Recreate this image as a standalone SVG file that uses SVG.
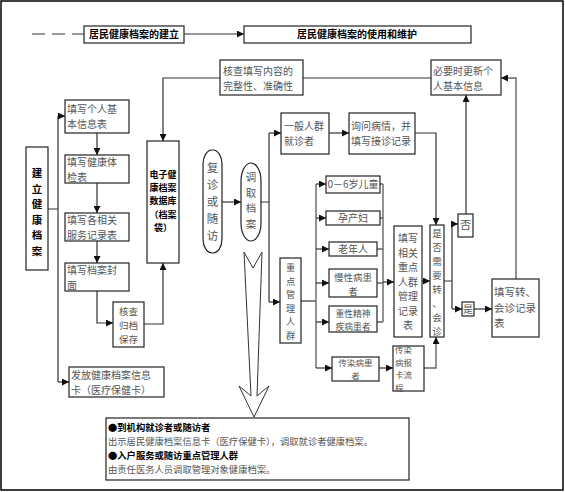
<svg xmlns="http://www.w3.org/2000/svg" width="565" height="492" viewBox="0 0 565 492">
<defs>
<marker id="ah" viewBox="0 0 8 8" refX="8" refY="4" markerWidth="7" markerHeight="7" markerUnits="userSpaceOnUse" orient="auto">
<path d="M0,0 L8,4 L0,8 z" fill="#111"/>
</marker>
<style>
.bx{fill:#fff;stroke:#222;stroke-width:1.2}
.t{font-family:"Noto Sans CJK SC","Noto Sans CJK JP",sans-serif;font-size:10px;fill:#555}
.c{text-anchor:middle}
.bd{font-weight:bold;fill:#000}
.ln{fill:none;stroke:#333;stroke-width:1.2}
.ar{marker-end:url(#ah)}
.g{stroke:#666;stroke-width:1.4}
</style>
</defs>
<rect x="1" y="1" width="562" height="489" fill="#fff" stroke="#000" stroke-width="1.5"/>

<g id="connectors">
<line class="ln" x1="32" y1="34" x2="84" y2="34" stroke-dasharray="13,7"/>
<path class="ln ar" d="M184,34 H244"/>
<path class="ln ar" d="M220,78 H163 V141"/>
<path class="ln" d="M303,78 H431"/>
<path class="ln ar g" d="M516,279 V78 H501"/>
<path class="ln ar" d="M466,214 V95"/>
<path class="ln" d="M48,209 H58 M58,116 V382"/>
<path class="ln ar" d="M58,116 H65"/>
<path class="ln ar" d="M58,382 H69"/>
<path class="ln ar" d="M97,133 V155"/>
<path class="ln ar" d="M97,183 V213"/>
<path class="ln ar" d="M97,241 V263"/>
<path class="ln ar" d="M97,291 V323 H113"/>
<path class="ln ar" d="M144,324 H163 V263"/>
<path class="ln ar" d="M222,202 H241"/>
<path class="ln" d="M261,202 H269 M269,133 V302"/>
<path class="ln ar" d="M269,133 H281"/>
<path class="ln ar" d="M269,302 H280"/>
<path class="ln ar" d="M329,133 H349"/>
<path class="ln ar" d="M415,133 H436 V225"/>
<path class="ln" d="M444,281 H452 M452,224 V309"/>
<path class="ln ar" d="M452,224 H458"/>
<path class="ln ar" d="M452,309 H462"/>
<path class="ln ar" d="M474,309 H492"/>
<path class="ln" d="M301,301 H316" stroke-width="2.2"/>
<path class="ln g" d="M316,184 V368"/>
<path class="ln ar" d="M316,184 H326"/>
<path class="ln ar" d="M316,218 H326"/>
<path class="ln ar" d="M316,249 H329"/>
<path class="ln ar" d="M316,283 H329"/>
<path class="ln ar" d="M316,322 H329"/>
<path class="ln ar" d="M316,368 H332"/>
<path class="ln g" d="M380,184 H383 M380,218 H383 M377,249 H383 M377,283 H383 M377,322 H383 M383,184 V322"/>
<path class="ln ar" d="M383,282 H394"/>
<path class="ln ar" d="M422,281 H430"/>
<path class="ln ar" d="M379,368 H393"/>
<path class="ln ar g" d="M424,368 H436 V337"/>
<polygon points="244,252 253,268 262,252 257,396 269,386 254,417 239,386 251,396" fill="#fff" stroke="#333" stroke-width="1"/>
</g>

<g id="n-build"><rect class="bx" x="84" y="26" width="100" height="17"/><text class="t c bd" x="134" y="38">居民健康档案的建立</text></g>
<g id="n-use"><rect class="bx" x="244" y="26" width="227" height="17"/><text class="t c bd" x="357" y="38">居民健康档案的使用和维护</text></g>

<g id="n-check"><rect class="bx" x="220" y="60" width="83" height="35"/><text class="t" x="223" y="75">核查填写内容的</text><text class="t" x="223" y="89.5">完整性、准确性</text></g>
<g id="n-update"><rect class="bx" x="431" y="60" width="70" height="35"/><text class="t" x="433" y="75">必要时更新个</text><text class="t" x="433" y="89.5">人基本信息</text></g>

<g id="n-jianli"><rect class="bx" x="26" y="147" width="22" height="123"/>
<text class="t c bd" style="font-size:10.5px"><tspan x="37" y="177">建</tspan><tspan x="37" y="192.5">立</tspan><tspan x="37" y="208">健</tspan><tspan x="37" y="223.5">康</tspan><tspan x="37" y="239">档</tspan><tspan x="37" y="254.5">案</tspan></text></g>

<g id="n-f1"><rect class="bx" x="65" y="100" width="64" height="33"/><text class="t" x="67" y="113">填写个人基</text><text class="t" x="67" y="127.5">本信息表</text></g>
<g id="n-f2"><rect class="bx" x="65" y="155" width="64" height="28"/><text class="t" x="67" y="166">填写健康体</text><text class="t" x="67" y="180.5">检表</text></g>
<g id="n-f3"><rect class="bx" x="65" y="213" width="64" height="28"/><text class="t" x="67" y="224">填写各相关</text><text class="t" x="67" y="238.5">服务记录表</text></g>
<g id="n-f4"><rect class="bx" x="65" y="263" width="64" height="28"/><text class="t" x="67" y="274">填写档案封</text><text class="t" x="67" y="288.5">面</text></g>
<g id="n-archive"><rect class="bx" x="113" y="302" width="31" height="45"/><text class="t c" style="font-size:9.5px"><tspan x="128.5" y="315">核查</tspan><tspan x="128.5" y="328.8">归档</tspan><tspan x="128.5" y="342.6">保存</tspan></text></g>
<g id="n-card"><rect class="bx" x="69" y="367" width="95" height="30"/><text class="t" x="71" y="379">发放健康档案信息</text><text class="t" x="71" y="393.5">卡（医疗保健卡）</text></g>

<g id="n-db"><rect class="bx" x="147" y="141" width="32" height="122"/>
<text class="t c bd" style="font-size:9px"><tspan x="163" y="178">电子健</tspan><tspan x="163" y="191.2">康档案</tspan><tspan x="163" y="204.4">数据库</tspan><tspan x="163" y="217.6">（档案</tspan><tspan x="163" y="230.8">袋）</tspan></text></g>

<g id="n-revisit"><rect class="bx" x="203" y="150" width="19" height="103" rx="9" ry="14"/>
<text class="t c" style="font-size:11.5px"><tspan x="212.5" y="172">复</tspan><tspan x="212.5" y="189">诊</tspan><tspan x="212.5" y="206">或</tspan><tspan x="212.5" y="223">随</tspan><tspan x="212.5" y="240">访</tspan></text></g>
<g id="n-fetch"><rect class="bx" x="241" y="163" width="20" height="78" rx="10" ry="18"/>
<text class="t c" style="font-size:10.5px"><tspan x="251" y="181">调</tspan><tspan x="251" y="196.5">取</tspan><tspan x="251" y="212">档</tspan><tspan x="251" y="227.5">案</tspan></text></g>

<g id="n-general"><rect class="bx" x="281" y="113" width="48" height="41"/><text class="t" x="284" y="130">一般人群</text><text class="t" x="284" y="144.5">就诊者</text></g>
<g id="n-ask"><rect class="bx" x="349" y="113" width="66" height="41"/><text class="t" x="351" y="130">询问病情，并</text><text class="t" x="351" y="144.5">填写接诊记录</text></g>

<g id="n-need"><rect class="bx" x="430" y="225" width="14" height="112"/>
<text class="t c" style="font-size:9.5px"><tspan x="437" y="237">是</tspan><tspan x="437" y="251">否</tspan><tspan x="437" y="265">需</tspan><tspan x="437" y="279">要</tspan><tspan x="437" y="293">转</tspan><tspan x="437" y="307">、</tspan><tspan x="437" y="321">会</tspan><tspan x="437" y="335">诊</tspan></text></g>
<g id="n-no"><rect class="bx" x="458" y="214" width="15" height="23"/><text class="t c" x="465.5" y="229" style="font-size:11px">否</text></g>
<g id="n-yes"><rect class="bx" x="462" y="302" width="12" height="14"/><text class="t c" x="468" y="313">是</text></g>
<g id="n-transfer"><rect class="bx" x="492" y="279" width="47" height="58"/><text class="t" style="font-size:10.5px"><tspan x="494" y="296">填写转、</tspan><tspan x="494" y="311.5">会诊记录</tspan><tspan x="494" y="327">表</tspan></text></g>

<g id="n-key"><rect class="bx" x="280" y="258" width="21" height="85"/>
<text class="t c" style="font-size:9.2px"><tspan x="290.5" y="271">重</tspan><tspan x="290.5" y="284.5">点</tspan><tspan x="290.5" y="298">管</tspan><tspan x="290.5" y="311.5">理</tspan><tspan x="290.5" y="325">人</tspan><tspan x="290.5" y="338.5">群</tspan></text></g>

<g id="n-child"><rect class="bx" x="326" y="176" width="54" height="17"/><text class="t c" x="353" y="188">0－6岁儿童</text></g>
<g id="n-preg"><rect class="bx" x="326" y="211" width="54" height="14"/><text class="t c" x="353" y="222">孕产妇</text></g>
<g id="n-old"><rect class="bx" x="329" y="242" width="48" height="14"/><text class="t c" x="353" y="253">老年人</text></g>
<g id="n-chronic"><rect class="bx" x="329" y="269" width="48" height="28"/><text class="t c" x="353" y="281" style="font-size:9.5px">慢性病患</text><text class="t c" x="353" y="294.8" style="font-size:9.5px">者</text></g>
<g id="n-mental"><rect class="bx" x="329" y="306" width="48" height="26"/><text class="t c" x="353" y="317" style="font-size:8.8px">重性精神</text><text class="t c" x="353" y="330" style="font-size:8.8px">疾病患者</text></g>
<g id="n-infect"><rect class="bx" x="332" y="357" width="47" height="24"/><text class="t c" x="355.5" y="366" style="font-size:8.5px">传染病患</text><text class="t c" x="355.5" y="379" style="font-size:8.5px">者</text></g>

<g id="n-keyrec"><rect class="bx" x="394" y="226" width="28" height="111"/>
<text class="t c"><tspan x="408" y="242">填写</tspan><tspan x="408" y="256.5">相关</tspan><tspan x="408" y="271">重点</tspan><tspan x="408" y="285.5">人群</tspan><tspan x="408" y="300">管理</tspan><tspan x="408" y="314.5">记录</tspan><tspan x="408" y="329">表</tspan></text></g>
<g id="n-report"><rect class="bx" x="393" y="346" width="31" height="45"/>
<text class="t" style="font-size:8.5px"><tspan x="395" y="353">传染</tspan><tspan x="395" y="365.5">病报</tspan><tspan x="395" y="378">卡流</tspan><tspan x="395" y="390.5">程</tspan></text></g>

<g id="n-note"><rect class="bx" x="106" y="418" width="303" height="62"/>
<text class="t bd" x="108" y="431" style="font-size:9.3px">●到机构就诊者或随访者</text>
<text class="t" x="108" y="445" style="font-size:9.3px">出示居民健康档案信息卡（医疗保健卡），调取就诊者健康档案。</text>
<text class="t bd" x="108" y="459" style="font-size:9.3px">●入户服务或随访重点管理人群</text>
<text class="t" x="108" y="472.5" style="font-size:9.3px">由责任医务人员调取管理对象健康档案。</text></g>
</svg>
